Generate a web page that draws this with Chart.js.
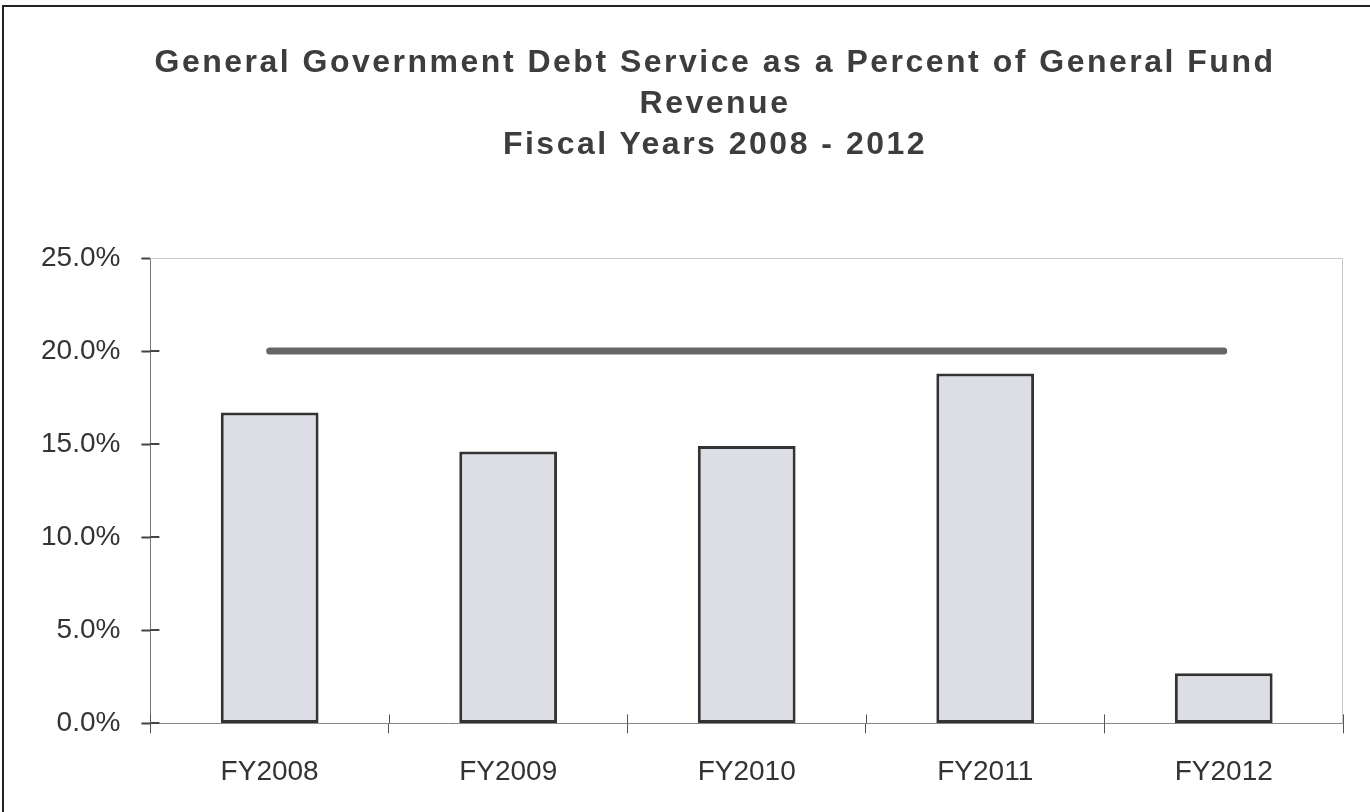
<!DOCTYPE html>
<html lang="en">
<head>
<meta charset="utf-8">
<title>General Government Debt Service</title>
<script src="https://cdn.jsdelivr.net/npm/chart.js@4/dist/chart.umd.min.js"></script>
<style>
    html, body {
        margin: 0;
        padding: 0;
        background: #ffffff;
    }
    .moldura {
        position: relative;
        width: 1370px;
        height: 812px;
        overflow: hidden;
    }
    .borda {
        position: absolute;
        left: 2px;
        top: 5px;
        right: 0;
        bottom: 0;
        border-top: 2px solid #222;
        border-left: 2px solid #222;
        pointer-events: none;
    }
    .titulo {
        position: absolute;
        top: 41px;
        left: 0;
        width: 1310px;
        padding-left: 60px;
        text-align: center;
        font-family: "Liberation Sans", Arial, sans-serif;
        font-weight: bold;
        font-size: 32px;
        line-height: 41px;
        letter-spacing: 2.5px;
        color: #3d3d3d;
    }
    #grafico {
        position: absolute;
        left: 0;
        top: 0;
    }
</style>
</head>
<body>
<div class="moldura">
    <canvas id="grafico" width="1370" height="812"></canvas>
    <div class="titulo">General Government Debt Service as a Percent of General Fund<br>Revenue<br>Fiscal Years 2008 - 2012</div>
    <div class="borda"></div>
</div>
<script>
// Dados do gráfico
const anosFiscais = ['FY2008', 'FY2009', 'FY2010', 'FY2011', 'FY2012'];
const servicoDivida = [16.7, 14.6, 14.9, 18.8, 2.7];
const limitePolitica = [20, 20, 20, 20, 20];
const marcasEixoY = [0, 5, 10, 15, 20, 25];

document.addEventListener('DOMContentLoaded', function() {
    const fonteEixos = { family: '"Liberation Sans", Arial, sans-serif', size: 28 };

    // Bordas claras da área de plotagem e metade interna das marcas dos eixos
    const bordasArea = {
        id: 'bordasArea',
        afterDraw(chart) {
            const ctx = chart.ctx;
            const area = chart.chartArea;
            const eixoX = chart.scales.x;
            const eixoY = chart.scales.y;
            ctx.save();
            ctx.lineWidth = 1;
            ctx.strokeStyle = '#c8c8c8';
            ctx.beginPath();
            ctx.moveTo(area.left, area.top + 0.5);
            ctx.lineTo(area.right, area.top + 0.5);
            ctx.moveTo(area.right - 0.5, area.top);
            ctx.lineTo(area.right - 0.5, area.bottom);
            ctx.stroke();

            ctx.strokeStyle = '#444';
            ctx.lineWidth = 2;
            ctx.beginPath();
            marcasEixoY.slice(0, -1).forEach(valor => {
                const py = Math.round(eixoY.getPixelForValue(valor));
                ctx.moveTo(area.left, py);
                ctx.lineTo(area.left + 9, py);
            });
            ctx.stroke();

            ctx.strokeStyle = '#555';
            ctx.lineWidth = 1;
            ctx.beginPath();
            for (let i = 0; i <= anosFiscais.length; i++) {
                const px = Math.round(eixoX.getPixelForValue(i - 0.5)) + 0.5;
                ctx.moveTo(px, area.bottom);
                ctx.lineTo(px, area.bottom - 9);
            }
            ctx.stroke();
            ctx.restore();
        }
    };

    const grafico = new Chart(document.getElementById('grafico').getContext('2d'), {
        data: {
            labels: anosFiscais,
            datasets: [
                {
                    type: 'line',
                    label: 'Limite',
                    data: limitePolitica,
                    borderColor: '#666666',
                    borderWidth: 7,
                    borderCapStyle: 'round',
                    pointRadius: 0,
                    fill: false,
                    order: 0
                },
                {
                    type: 'bar',
                    label: 'Serviço da dívida',
                    data: servicoDivida,
                    backgroundColor: '#dcdde5',
                    borderColor: '#333333',
                    borderWidth: 3,
                    borderSkipped: false,
                    categoryPercentage: 1,
                    barPercentage: 0.41,
                    order: 1
                }
            ]
        },
        options: {
            responsive: false,
            animation: false,
            layout: {
                padding: { top: 258, left: 20, right: 27, bottom: 1 }
            },
            plugins: {
                legend: { display: false },
                title: { display: false },
                tooltip: { enabled: false }
            },
            scales: {
                x: {
                    offset: true,
                    grid: {
                        offset: true,
                        drawOnChartArea: false,
                        tickLength: 10,
                        tickColor: '#555'
                    },
                    border: { color: '#888', width: 1 },
                    ticks: {
                        font: fonteEixos,
                        color: '#333',
                        padding: 22
                    }
                },
                y: {
                    min: 0,
                    max: 25,
                    afterBuildTicks: function(eixo) {
                        eixo.ticks = marcasEixoY.map(v => ({ value: v }));
                    },
                    grid: {
                        drawOnChartArea: false,
                        tickLength: 9,
                        tickColor: '#444',
                        tickWidth: 2
                    },
                    border: { color: '#777', width: 1 },
                    ticks: {
                        font: fonteEixos,
                        color: '#333',
                        padding: 21,
                        callback: valor => valor.toFixed(1) + '%'
                    }
                }
            }
        },
        plugins: [bordasArea]
    });
});
</script>
</body>
</html>
